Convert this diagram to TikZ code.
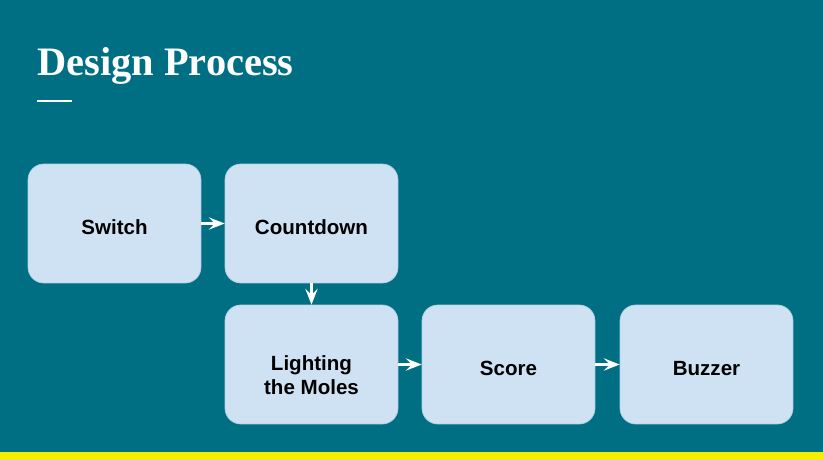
\documentclass[tikz,border=0pt]{standalone}
\usepackage{fontspec}
\setmainfont{Liberation Serif}
\newfontfamily\boxfont{Liberation Sans}
\usetikzlibrary{arrows.meta}
\definecolor{slidebg}{HTML}{006F84}
\definecolor{boxfill}{HTML}{CFE2F3}
\definecolor{barcol}{HTML}{F5EE00}
\begin{document}
\begin{tikzpicture}[
  x=0.02cm, y=-0.02cm,
  stagebox/.style={rectangle, rounded corners=9pt, fill=boxfill, draw=boxfill!85!slidebg,
    line width=0.4pt, minimum width=3.46cm, minimum height=2.38cm},
  stagetext/.style={align=center, text=black, inner sep=0pt,
    font=\boxfont\fontsize{11.7}{13.6}\selectfont\bfseries},
  flow/.style={-{Stealth[length=9pt, width=7pt, inset=3.5pt]}, line width=1.4pt, white}
]

% ====== BACKGROUND ======
\fill[slidebg] (0,0) rectangle (823,460);
\fill[barcol] (0,452) rectangle (823,460);
\useasboundingbox (0,0) rectangle (823,460);

% ====== TITLE ======
\node[anchor=base west, inner sep=0pt, text=white,
    font=\fontsize{23}{26}\selectfont\bfseries] (title) at (37,75) {Design Process};
\draw[white, line width=1.2pt] (37,101) -- (72,101);

% ====== STAGES ======
\node[stagebox, label={[stagetext, yshift=-0.08cm]center:Switch}] (switch) at (114.5,223.5) {};
\node[stagebox, label={[stagetext, yshift=-0.08cm]center:Countdown}] (count) at (311.5,223.5) {};
\node[stagebox, label={[stagetext, yshift=-0.22cm]center:{Lighting\\the Moles}}] (moles) at (311.5,364.5) {};
\node[stagebox, label={[stagetext, yshift=-0.08cm]center:Score}] (score) at (508.5,364.5) {};
\node[stagebox, label={[stagetext, yshift=-0.08cm]center:Buzzer}] (buzz) at (706.5,364.5) {};

% ====== FLOW ======
\draw[flow] (switch) -- (count);
\draw[flow] (count) -- (moles);
\draw[flow] (moles) -- (score);
\draw[flow] (score) -- (buzz);

\end{tikzpicture}
\end{document}
